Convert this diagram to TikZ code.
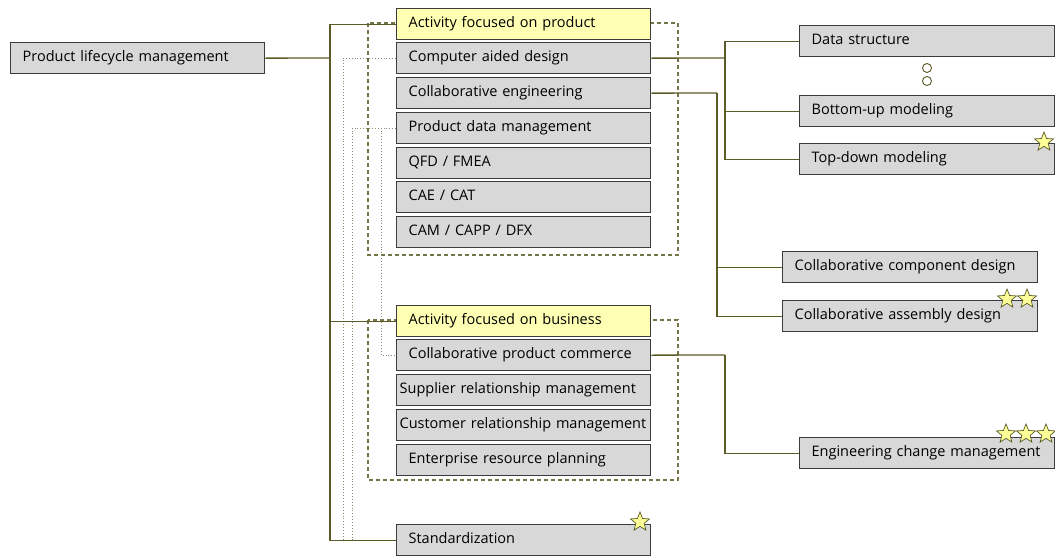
\documentclass[tikz,border=0pt]{standalone}
\usepackage{fontspec}
\setmainfont{Open Sans}
\usetikzlibrary{shapes.geometric}
\definecolor{olive}{HTML}{5B5B27}
\definecolor{dotgray}{HTML}{8C8C74}
\definecolor{boxgray}{HTML}{D8D8D8}
\definecolor{boxedge}{HTML}{3C3C3C}
\definecolor{paleyellow}{HTML}{FFFFB4}
\definecolor{stargold}{HTML}{FFFF99}
\tikzset{
  card/.style={draw=boxedge, line width=1.3pt, fill=boxgray, anchor=north west,
    minimum height=31pt, inner sep=0pt, inner xsep=12pt, align=left,
    font=\fontsize{14.5}{16}\selectfont, text height=10.5pt, text depth=3pt},
  wide/.style={card, minimum width=254pt, text width=230pt},
  wideR/.style={card, minimum width=255pt, text width=231pt},
  tight/.style={card, minimum width=254pt, inner xsep=3pt, text width=248pt},
  head/.style={wide, fill=paleyellow},
  conn/.style={draw=olive, line width=1.3pt},
  dotline/.style={draw=dotgray, line width=0.9pt, dotted},
  frame/.style={draw=olive!85, line width=1.2pt, dash pattern=on 4pt off 3pt},
  ratingstar/.style={star, star points=5, star point ratio=2.3, minimum size=20pt,
    inner sep=0pt, draw=olive, line width=0.7pt, fill=stargold},
  dotmark/.style={circle, draw=olive, line width=0.9pt, fill=white,
    minimum size=9pt, inner sep=0pt}
}
\begin{document}
\begin{tikzpicture}[x=1pt, y=-1pt]
\useasboundingbox (0,0) rectangle (1055,557);

% dashed group frames (behind everything)
\draw[frame] (368,23) rectangle (678,255);
\draw[frame] (368,320) rectangle (678,480);

% root
\node[card, minimum width=254pt, text width=230pt] (plm) at (10,42) {Product lifecycle management};

% product-oriented group
\node[head] (actprod) at (396,8)   {Activity focused on product};
\node[wide] (cad)     at (396,42)  {Computer aided design};
\node[wide] (ce)      at (396,77)  {Collaborative engineering};
\node[wide] (pdm)     at (396,112) {Product data management};
\node[wide] (qfd)     at (396,147) {QFD / FMEA};
\node[wide] (cae)     at (396,181) {CAE / CAT};
\node[wide] (cam)     at (396,216) {CAM / CAPP / DFX};

% business-oriented group
\node[head]  (actbus) at (396,305) {Activity focused on business};
\node[wide]  (cpc)    at (396,339) {Collaborative product commerce};
\node[tight] (srm)    at (396,374) {Supplier relationship management};
\node[tight] (crm)    at (396,409) {Customer relationship management};
\node[wide]  (erp)    at (396,444) {Enterprise resource planning};

\node[wide] (std) at (396,524) {Standardization};

% right-hand details
\node[wideR] (ds)  at (799,25)  {Data structure};
\node[wideR] (bu)  at (799,95)  {Bottom-up modeling};
\node[wideR] (td)  at (799,143) {Top-down modeling};
\node[wideR] (ccd) at (782,251) {Collaborative component design};
\node[wideR] (cas) at (782,300) {Collaborative assembly design};
\node[wideR] (ecm) at (799,437) {Engineering change management};

\node[dotmark] (e1) at (927,68) {};
\node[dotmark] (e2) at (927,81) {};

% junction points
\coordinate (trunk) at (330,58);
\coordinate (j1) at (725,58);
\coordinate (j2) at (717,93);
\coordinate (j3) at (725,355);
\coordinate (d1) at (343,540);
\coordinate (d2) at (352,540);

% dotted cross references
\draw[dotline] (cad.west) -| (d1);
\draw[dotline] (pdm.west) -| (d2);
\draw[dotline] (pdm.west) -- ++(-15,0) |- (cpc.west);

% tree connectors
\draw[conn] (plm.east) -- (trunk);
\draw[conn] (trunk) |- (actprod.west);
\draw[conn] (trunk) |- (actbus.west);
\draw[conn] (trunk) |- (std.west);

\draw[conn] (cad.east) -- (j1);
\draw[conn] (j1) |- (ds.west);
\draw[conn] (j1) |- (bu.west);
\draw[conn] (j1) |- (td.west);

\draw[conn] (ce.east) -- (j2);
\draw[conn] (j2) |- (ccd.west);
\draw[conn] (j2) |- (cas.west);

\draw[conn] (cpc.east) -- (j3);
\draw[conn] (j3) |- (ecm.west);

% rating stars
\node[ratingstar] (s1) at (1044,142) {};
\node[ratingstar] (s2) at (640,522) {};
\node[ratingstar] (s3) at (1007,299) {};
\node[ratingstar] (s4) at (1027,299) {};
\node[ratingstar] (s5) at (1006,434) {};
\node[ratingstar] (s6) at (1026,434) {};
\node[ratingstar] (s7) at (1046,434) {};
\end{tikzpicture}
\end{document}
